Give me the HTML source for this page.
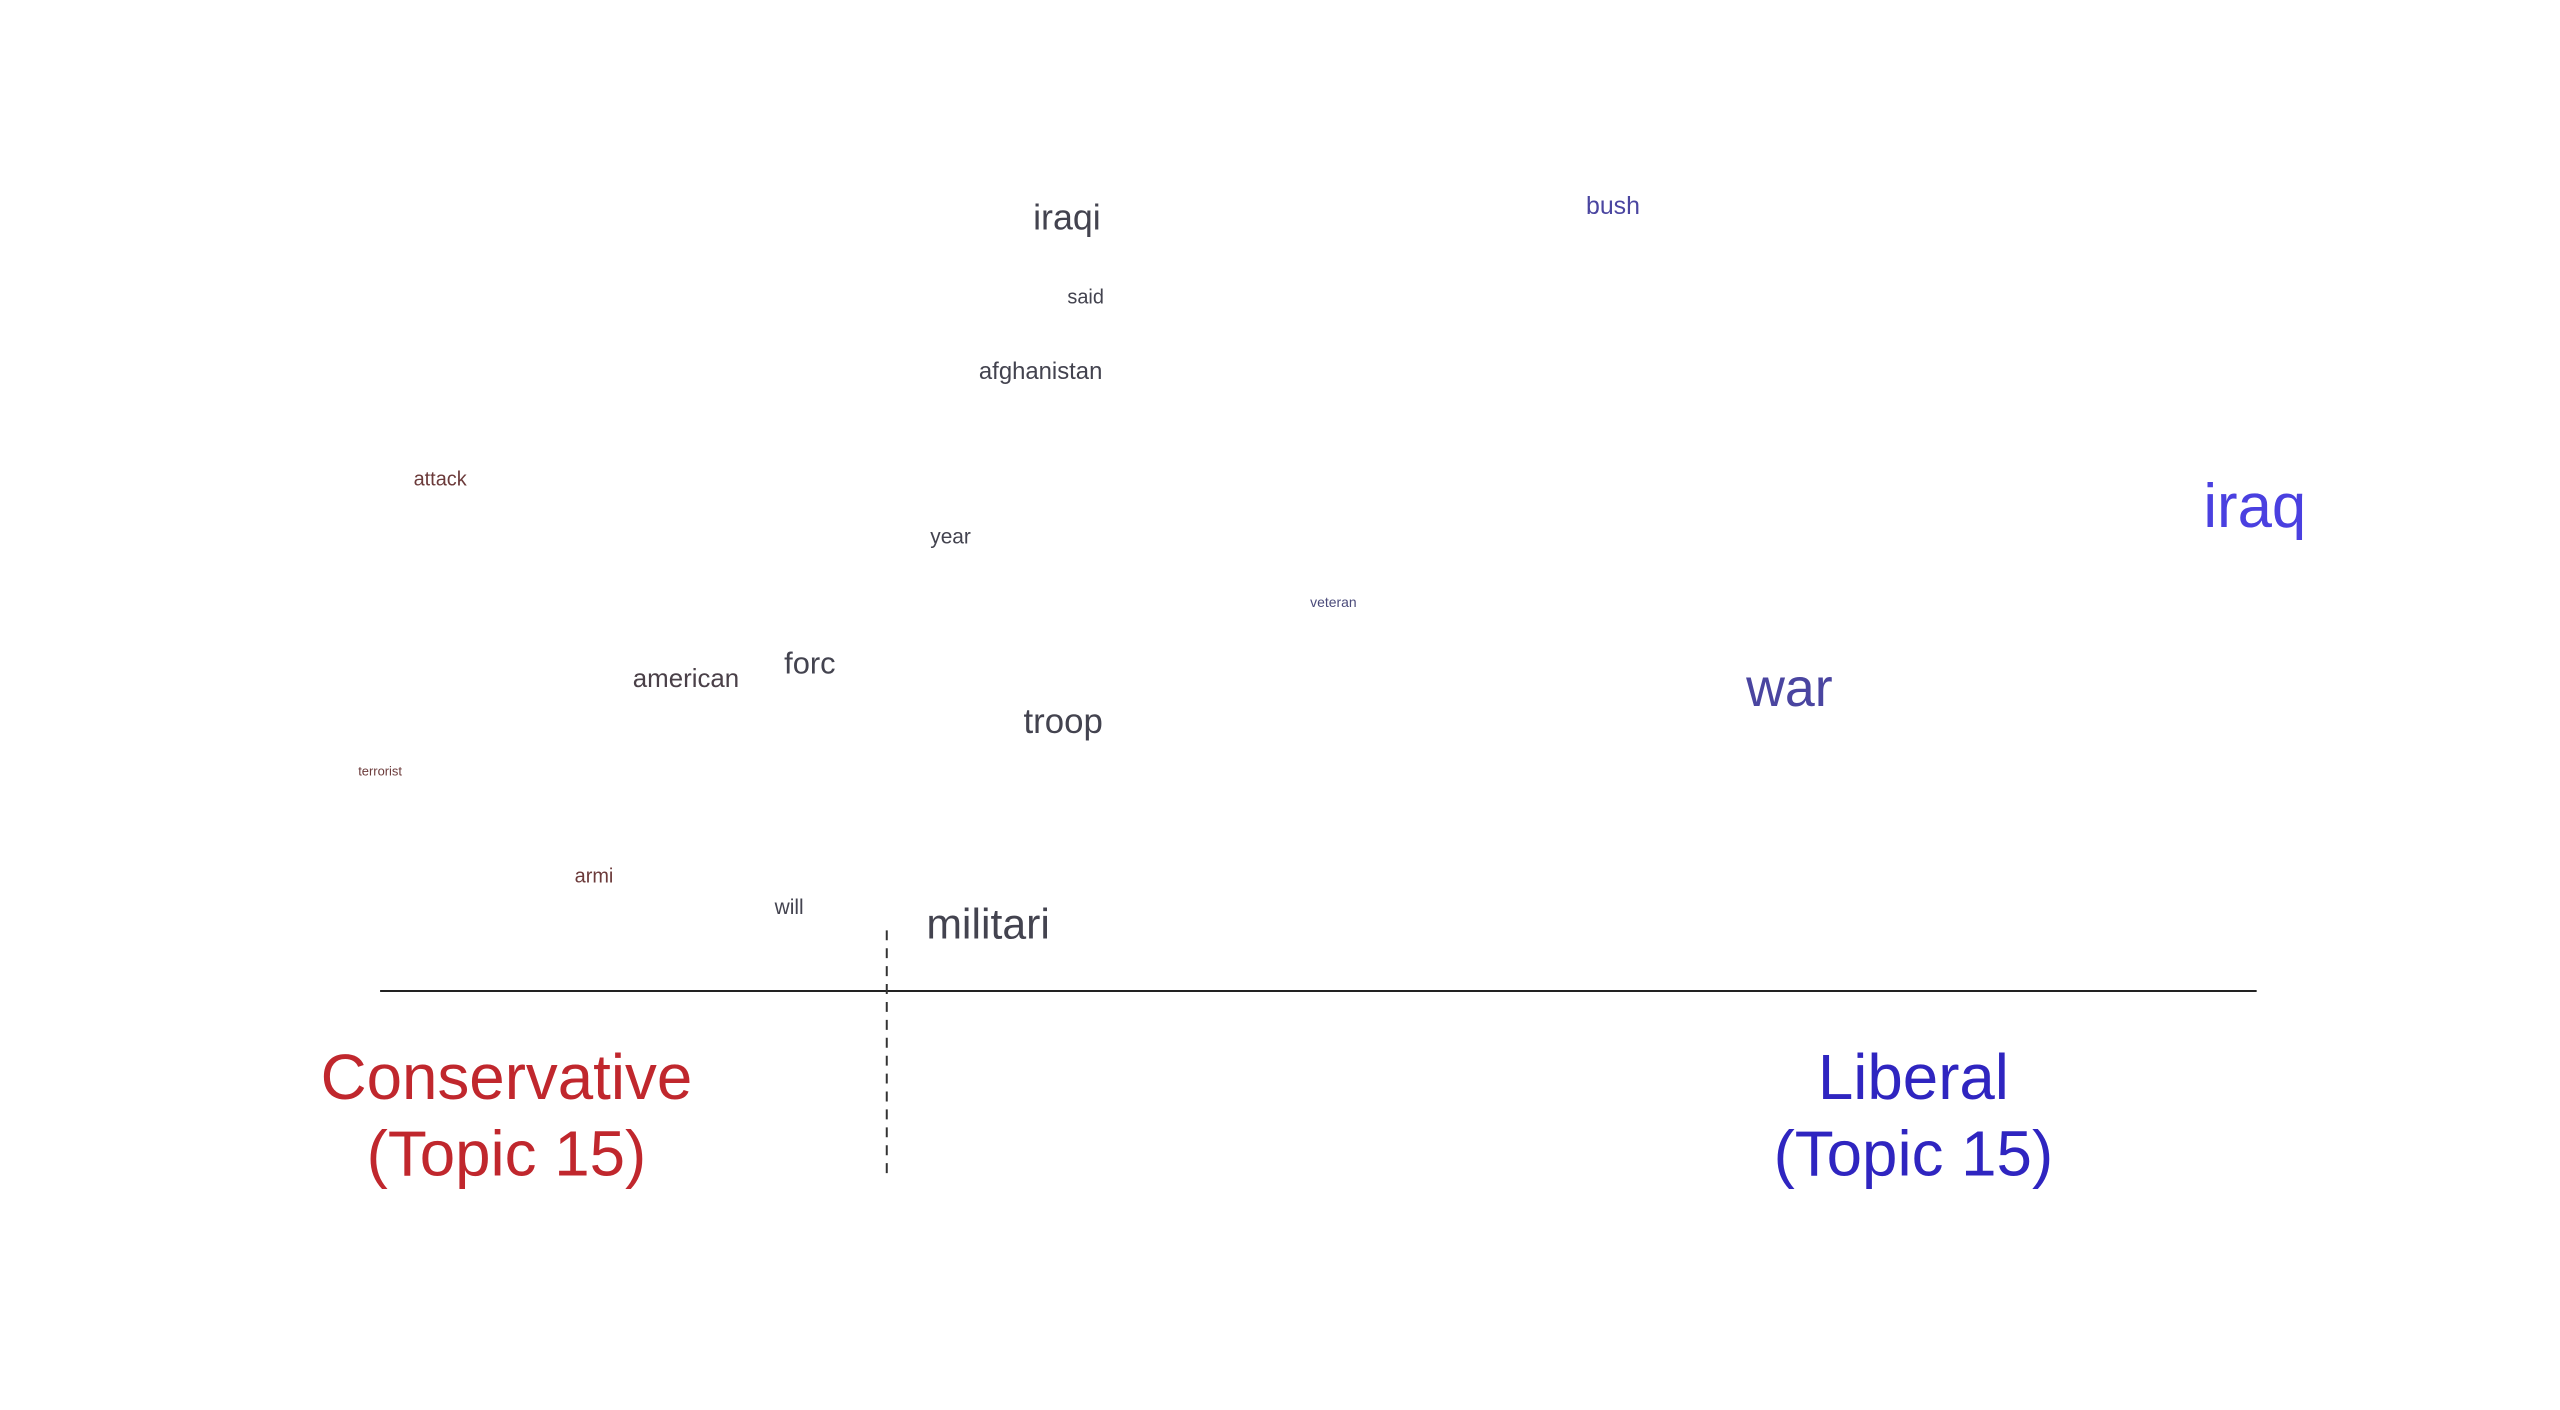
<!DOCTYPE html>
<html><head><meta charset="utf-8">
<style>html,body{margin:0;padding:0;background:#fff;}svg{display:block;}</style>
</head><body>
<svg id="chart" width="2560" height="1410" viewBox="0 0 2560 1410" xmlns="http://www.w3.org/2000/svg" font-family="Liberation Sans, Arial, sans-serif">
<rect width="2560" height="1410" fill="#fff"/>
<g id="plot" transform="scale(0.995)">
<line x1="382" y1="996" x2="2268" y2="996" stroke="#222" stroke-width="2"/>
<g id="words"></g>
<text x="509" y="1083" font-size="64" fill="#c0272d" text-anchor="middle" dominant-baseline="central">Conservative</text>
<text x="509" y="1160" font-size="64" fill="#c0272d" text-anchor="middle" dominant-baseline="central">(Topic 15)</text>
<text x="1923" y="1083" font-size="64" fill="#2f25c0" text-anchor="middle" dominant-baseline="central">Liberal</text>
<text x="1923" y="1160" font-size="64" fill="#2f25c0" text-anchor="middle" dominant-baseline="central">(Topic 15)</text>
</g>
</svg>
<script>
const words = ["iraqi","said","afghanistan","bush","attack","iraq","year","veteran","american","forc","troop","war","terrorist","armi","will","militari"];
const xValues = [36.6,37.6,35.2,65.7,3.2,99.9,30.4,50.8,16.3,22.9,36.4,75.1,0.0,11.4,21.8,32.4];
const yValues = [95.3,85.4,76.3,96.7,63.0,59.7,55.9,47.9,38.4,40.4,33.2,37.3,27.1,14.1,10.3,8.2];
const weights = [36,20,24,25,20,62,21,14,26,31,35,54,13,20,21,43];
const colors = ["#43434f","#43434f","#43434f","#4a45a0","#6b3a3a","#4a40e0","#43434f","#4a4a7a","#4a4048","#43434f","#43434f","#4a45a0","#6b3a3a","#6b3a3a","#43434f","#43434f"];
const cutValue = [27.0];

const X0=382, X1=2268, Y0=996, Y1=180;
function xScale(v){return X0+(v/100)*(X1-X0);}
function yScale(v){return Y0-(v/100)*(Y0-Y1);}
const NS="http://www.w3.org/2000/svg";
const g=document.getElementById('words');
words.forEach((w,i)=>{
  const t=document.createElementNS(NS,'text');
  t.setAttribute('x',xScale(xValues[i]));
  t.setAttribute('y',yScale(yValues[i]));
  t.setAttribute('font-size',weights[i]);
  t.setAttribute('fill',colors[i]);
  t.setAttribute('text-anchor','middle');
  t.setAttribute('dominant-baseline','central');
  
  
  t.textContent=w;
  g.appendChild(t);
});
const plot=document.getElementById('plot');
const dl=document.createElementNS(NS,'line');
dl.setAttribute('x1',xScale(cutValue[0]));
dl.setAttribute('x2',xScale(cutValue[0]));
dl.setAttribute('y1',935);
dl.setAttribute('y2',1181);
dl.setAttribute('stroke','#333');
dl.setAttribute('stroke-width','2');
dl.setAttribute('stroke-dasharray','10,8');


plot.appendChild(dl);
</script>
</body></html>
